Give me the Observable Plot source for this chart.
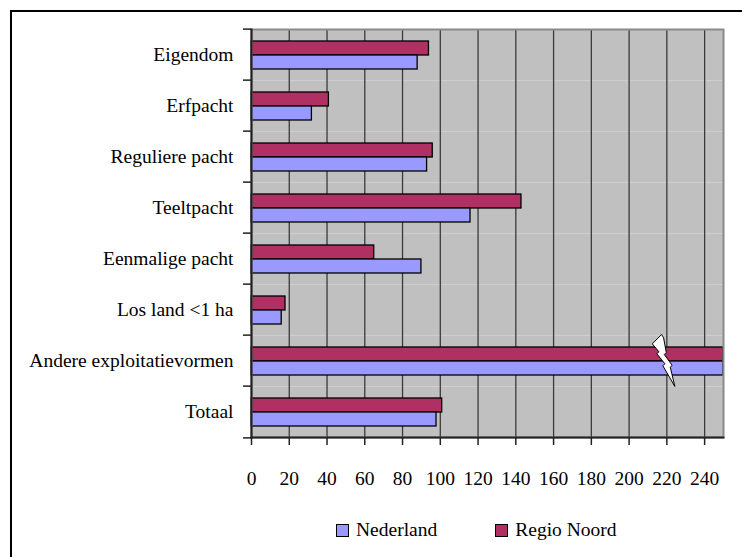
<!DOCTYPE html>
<html>
<head>
<meta charset="utf-8">
<script src="https://cdn.jsdelivr.net/npm/d3@7"></script>
<script src="https://cdn.jsdelivr.net/npm/@observablehq/plot@0.6"></script>
<style>
  html, body { margin: 0; padding: 0; background: white; overflow: hidden; width: 742px; height: 557px; }
  #outer { position: absolute; left: 10px; top: 10px; width: 800px; height: 600px;
           border-left: 2px solid #000; border-top: 2px solid #000; pointer-events: none; }
  #chart { position: absolute; left: 0; top: 0; width: 742px; }
  #legend { height: 60px; display: flex; align-items: center; padding-left: 336px;
            font-family: "Liberation Serif", serif; font-size: 19.5px; color: #000; }
  .item { display: flex; align-items: center; margin-right: 58px; }
  .sw { width: 13px; height: 13px; box-sizing: border-box; border: 1.5px solid #000; margin-right: 7px; }
</style>
</head>
<body>
<div id="outer"></div>
<div id="chart"></div>
<script>
// ---- data ----
const categories = ["Eigendom", "Erfpacht", "Reguliere pacht", "Teeltpacht",
  "Eenmalige pacht", "Los land <1 ha", "Andere exploitatievormen", "Totaal"];
const series = ["Nederland", "Regio Noord"];
const seriesColors = ["#9999ff", "#b03064"];
const nederland  = [88, 32, 93, 116, 90, 16, 250, 98];   // "Andere" is off-scale (axis break)
const regioNoord = [94, 41, 96, 143, 65, 18, 250, 101];
const xTicks = [0, 20, 40, 60, 80, 100, 120, 140, 160, 180, 200, 220, 240];
const xMax = 250;
const breakAt = 218;              // x value where the break symbol sits
const breakCategory = "Andere exploitatievormen";

const rows = categories.flatMap((c, i) => [
  {category: c, series: "Regio Noord", value: regioNoord[i]},
  {category: c, series: "Nederland", value: nederland[i]}
]);

const W = 742, H = 500, mTop = 26, mBottom = 60, mLeft = 251, mRight = 19;
const step = (H - mTop - mBottom) / categories.length;

const plot = Plot.plot({
  width: W, height: H,
  marginTop: mTop, marginBottom: mBottom, marginLeft: mLeft, marginRight: mRight,
  style: {background: "transparent", fontFamily: "'Liberation Serif', serif", fontSize: "19.5px", color: "#000"},
  x: {domain: [0, xMax]},
  fy: {domain: categories, padding: 0},
  y: {domain: ["Regio Noord", "Nederland"], paddingInner: 0, paddingOuter: 0.766, axis: null},
  color: {domain: series, range: seriesColors},
  marks: [
    Plot.frame({fill: "#c0c0c0"}),
    Plot.gridX({ticks: xTicks, stroke: "#3a3a3a", strokeOpacity: 1, strokeWidth: 1.3}),
    Plot.barX(rows, {fy: "category", y: "series", x: "value", fill: "series",
      stroke: "#000", strokeWidth: 1.3}),
    Plot.frame({facet: "super", stroke: "#8a8a8a", strokeWidth: 2}),
    Plot.frame({facet: "super", anchor: "left", stroke: "#222", strokeWidth: 2}),
    Plot.frame({facet: "super", anchor: "bottom", stroke: "#222", strokeWidth: 2}),
    Plot.axisFy({anchor: "left", tickSize: 0, tickPadding: 18, label: null}),
    Plot.axisFy({anchor: "left", tickSize: 8, tickFormat: () => "", dy: -step / 2, label: null, stroke: "#222", strokeWidth: 1.5}),
    Plot.axisFy({anchor: "left", ticks: [categories[categories.length - 1]], tickSize: 8, tickFormat: () => "", dy: step / 2, label: null, stroke: "#222", strokeWidth: 1.5}),
    Plot.axisX({ticks: xTicks, tickSize: 8, tickPadding: 26, label: null, stroke: "#222", strokeWidth: 1.5})
  ]
});
document.getElementById("chart").appendChild(plot);

// axis-break symbol (lightning bolt) placed via the plot's own scales
const sx = plot.scale("x"), sfy = plot.scale("fy");
const cx = sx.apply(breakAt);
const cy = sfy.apply(breakCategory) + sfy.bandwidth / 2;
const bolt = [[-1,-26],[-10.3,-16.7],[-3.7,-8.7],[-5.7,-6.7],[2.3,3.3],[0.3,5.3],[12.3,26],
              [7.7,6.7],[9.5,4.7],[1.7,-6],[3.7,-8],[1,-22.7]];
d3.select(plot).append("path")
  .attr("d", "M" + bolt.map(([dx, dy]) => [cx + dx, cy + dy].join(",")).join("L") + "Z")
  .attr("fill", "#fff").attr("stroke", "#000").attr("stroke-width", 1);

// legend below the svg
const legend = d3.select("#chart").append("div").attr("id", "legend");
series.forEach((s, i) => {
  const it = legend.append("div").attr("class", "item");
  it.append("div").attr("class", "sw").style("background", seriesColors[i]);
  it.append("span").text(s);
});
</script>
</body>
</html>
